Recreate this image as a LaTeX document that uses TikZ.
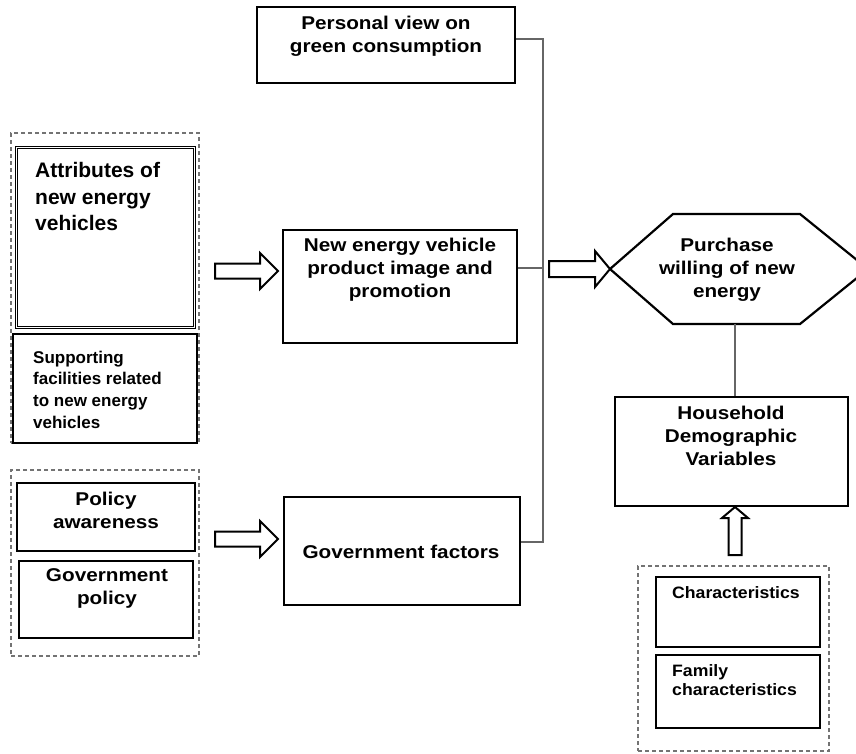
\documentclass[tikz,border=0pt]{standalone}
\usepackage{fontspec}
\setmainfont{Liberation Sans}
\newfontfamily\wfont{Liberation Sans}[FakeStretch=1.12]
\newfontfamily\mfont{Liberation Sans}[FakeStretch=1.07]
\usetikzlibrary{calc}
\tikzset{
  box/.style={draw=black, line width=2.2pt, fill=white, inner sep=0pt, rectangle},
  dbox/.style={draw=black!55, line width=1.3pt, dash pattern=on 4pt off 3pt, inner sep=0pt, rectangle},
  mtxt/.style={font=\wfont\bfseries\fontsize{18.5}{23}\selectfont, align=center, inner sep=0pt},
  attxt/.style={font=\bfseries\fontsize{21}{26.5}\selectfont, align=left, inner sep=0pt},
  sptxt/.style={font=\bfseries\fontsize{17}{21.7}\selectfont, align=left, inner sep=0pt},
  chtxt/.style={font=\mfont\bfseries\fontsize{16.5}{19}\selectfont, align=left, inner sep=0pt},
  conn/.style={draw=black!60, line width=1.4pt},
  barrow/.style={draw=black, line width=2pt, fill=white, line join=miter},
}
\begin{document}
\begin{tikzpicture}[x=1pt,y=-1pt]
\clip (0,0) rectangle (856,753);
\fill[white] (0,0) rectangle (856,753);

% left dashed groups
\node[dbox, minimum width=188pt, minimum height=310pt] (g1) at (105,288) {};
\node[dbox, minimum width=188pt, minimum height=186pt] (g2) at (105,563) {};
\node[dbox, minimum width=191pt, minimum height=185pt] (g3) at (733.5,658.5) {};

% boxes left
\node[box, double, double distance=0.7pt, line width=1.5pt, minimum width=178pt, minimum height=180pt] (attr) at (105.5,237.5) {};
\node[attxt, anchor=west] (attrt) at (35,196.5) {Attributes of\\new energy\\vehicles};
\node[box, minimum width=184pt, minimum height=109pt] (supp) at (105,388.5) {};
\node[sptxt, anchor=west] (suppt) at (33,389.5) {Supporting\\facilities related\\to new energy\\vehicles};

\node[box, minimum width=178pt, minimum height=68pt] (pa) at (106,517) {};
\node[mtxt] (pat) at (106,510.5) {Policy\\awareness};
\node[box, minimum width=174pt, minimum height=77pt] (gp) at (106,599.5) {};
\node[mtxt] (gpt) at (107,588.5) {Government\\policy};

% middle boxes
\node[box, minimum width=258pt, minimum height=76pt] (pv) at (386,45) {};
\node[mtxt] (pvt) at (386,36) {Personal view on\\green consumption};
\node[box, minimum width=234pt, minimum height=113pt] (prod) at (400,286.5) {};
\node[mtxt] (prodt) at (400,270) {New energy vehicle\\product image and\\promotion};
\node[box, minimum width=236pt, minimum height=108pt] (gov) at (402,551) {};
\node[mtxt] (govt) at (401,552) {Government factors};

% hexagon
\draw[box] (610,269) -- (673,214) -- (800,214) -- (868,269) -- (800,324) -- (673,324) -- cycle;
\node[mtxt] (hext) at (727,270) {Purchase\\willing of new\\energy};
\coordinate (hexb) at (735,324);
\coordinate (hexl) at (610,269);

% household
\node[box, minimum width=233pt, minimum height=109pt] (hh) at (731.5,451.5) {};
\node[mtxt] (hht) at (731,436) {Household\\Demographic\\Variables};

% right small boxes
\node[box, minimum width=164pt, minimum height=70pt] (ch) at (738,612) {};
\node[chtxt, anchor=west] (cht) at (672,593) {Characteristics};
\node[box, minimum width=164pt, minimum height=73pt] (fam) at (738,691.5) {};
\node[chtxt, anchor=west] (famt) at (672,680.5) {Family\\characteristics};

% connectors
\coordinate (j1) at (543,39);
\coordinate (j2) at (543,268);
\coordinate (j3) at (543,542);
\draw[conn] (pv.east |- j1) -- (j1) -- (j3) -- (gov.east |- j3);
\draw[conn] (prod.east |- j2) -- (j2);
\draw[conn] (hexb) -- (hexb |- hh.north);

% block arrows
\draw[barrow] (215,263.5) -- (260,263.5) -- (260,253) -- (278,271) -- (260,289) -- (260,278.5) -- (215,278.5) -- cycle;
\draw[barrow] (215,531.5) -- (260,531.5) -- (260,521) -- (278,539) -- (260,557) -- (260,546.5) -- (215,546.5) -- cycle;
\draw[barrow] (549,261) -- (595,261) -- (595,251) -- (hexl) -- (595,287) -- (595,277) -- (549,277) -- cycle;
\draw[barrow] (728.5,555) -- (728.5,518) -- (722,518) -- (735,507) -- (748,518) -- (741.5,518) -- (741.5,555) -- cycle;
\end{tikzpicture}
\end{document}
